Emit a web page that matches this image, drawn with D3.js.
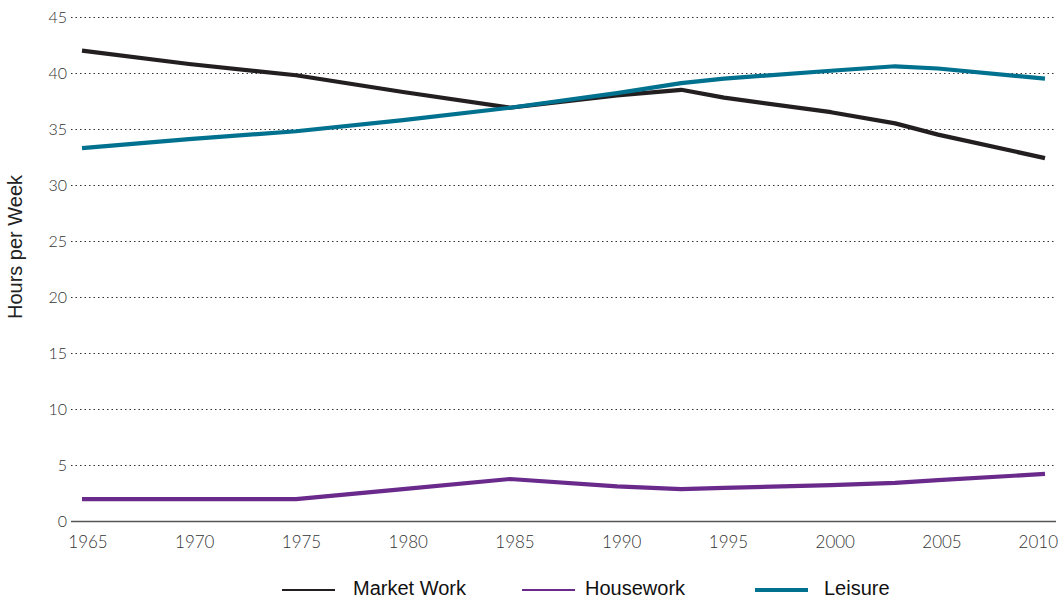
<!DOCTYPE html>
<html>
<head>
<meta charset="utf-8">
<script src="https://cdn.jsdelivr.net/npm/d3@7"></script>
<style>
  body { margin: 0; background: #fff; }
  svg text { font-family: Lato, "Open Sans", sans-serif; }
</style>
</head>
<body>
<div id="chart"></div>
<script>
// data
const years = [1965, 1970, 1975, 1980, 1985, 1990, 1993, 1995, 2000, 2003, 2005, 2010]
const marketWork = [42.0, 40.8, 39.8, 38.3, 36.9, 38.0, 38.5, 37.8, 36.5, 35.5, 34.5, 32.4]
const housework = [1.95, 1.95, 1.95, 2.85, 3.75, 3.1, 2.85, 2.95, 3.2, 3.4, 3.65, 4.2]
const leisure = [33.3, 34.1, 34.8, 35.8, 36.9, 38.2, 39.1, 39.5, 40.2, 40.6, 40.4, 39.5]
const yTicks = [0, 5, 10, 15, 20, 25, 30, 35, 40, 45]
const xTicks = [1965, 1970, 1975, 1980, 1985, 1990, 1995, 2000, 2005, 2010]
const seriesNames = ['Market Work', 'Housework', 'Leisure']

const W = 1062, H = 601
const m = { top: 17, right: 16, bottom: 80, left: 82 }
const colors = ['#231f20', '#6a2a8c', '#00718e']

const svg = d3.select('#chart').append('svg')
    .attr('width', W).attr('height', H)

const x = d3.scaleLinear().domain([1965, 2010]).range([m.left, W - m.right - 1])
const y = d3.scaleLinear().domain([0, 45]).range([H - m.bottom, m.top])
// tick labels sit a few px right of the data positions
const xLab = d3.scaleLinear().domain([1965, 2005]).range([88, 942])

// grid
const gridX0 = 71, gridX1 = 1056
svg.append('g').selectAll('line')
    .data(yTicks.filter(d => d > 0))
    .enter().append('line')
    .attr('x1', gridX0).attr('x2', gridX1)
    .attr('y1', d => Math.round(y(d)) + 0.5).attr('y2', d => Math.round(y(d)) + 0.5)
    .style('stroke', '#333')
    .style('stroke-width', 1.2)
    .style('stroke-dasharray', '1.5,3')

svg.append('line')
    .attr('x1', gridX0).attr('x2', gridX1)
    .attr('y1', Math.round(y(0)) + 0.5).attr('y2', Math.round(y(0)) + 0.5)
    .style('stroke', '#555').style('stroke-width', 1.3)

// y labels
svg.append('g').selectAll('text')
    .data(yTicks)
    .enter().append('text')
    .attr('x', 67)
    .attr('y', d => y(d))
    .attr('dy', '0.36em')
    .attr('text-anchor', 'end')
    .style('font-size', '16px')
    .style('font-weight', 300)
    .style('fill', '#333')
    .text(d => d)

// x labels
svg.append('g').selectAll('text')
    .data(xTicks)
    .enter().append('text')
    .attr('x', d => d === 2010 ? 1058 : xLab(d))
    .attr('y', 548)
    .attr('text-anchor', d => d === 2010 ? 'end' : 'middle')
    .style('font-size', '17px')
    .style('font-weight', 300)
    .style('fill', '#333')
    .text(d => d)

// axis title
svg.append('text')
    .attr('transform', `translate(22,${247}) rotate(-90)`)
    .attr('text-anchor', 'middle')
    .style('font-family', '"Liberation Sans", Arial, sans-serif')
    .style('font-size', '20px')
    .style('fill', '#222')
    .text('Hours per Week')

// lines
const line = d3.line()
    .x((d, i) => x(years[i]))
    .y(d => y(d))

;[marketWork, housework, leisure].forEach((s, i) => {
    svg.append('path')
        .datum(s)
        .attr('d', line)
        .style('fill', 'none')
        .style('stroke', colors[i])
        .style('stroke-width', 4.2)
        .style('stroke-linejoin', 'round')
})

// legend
const legend = [
    { name: seriesNames[0], lx: 282, tx: 353, w: 2.2 },
    { name: seriesNames[1], lx: 522, tx: 585, w: 2.2 },
    { name: seriesNames[2], lx: 755, tx: 824, w: 4 },
]
const lg = svg.append('g')
legend.forEach((d, i) => {
    lg.append('line')
        .attr('x1', d.lx).attr('x2', d.lx + 53)
        .attr('y1', 590).attr('y2', 590)
        .style('stroke', colors[i])
        .style('stroke-width', d.w)
    lg.append('text')
        .attr('x', d.tx).attr('y', 595)
        .style('font-family', '"Liberation Sans", Arial, sans-serif')
        .style('font-size', '20px')
        .style('fill', '#111')
        .text(d.name)
})
</script>
</body>
</html>
